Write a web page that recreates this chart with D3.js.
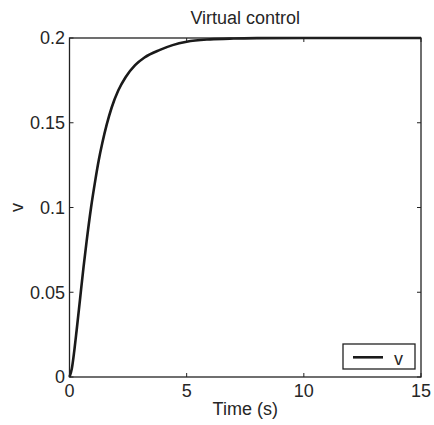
<!DOCTYPE html>
<html><head><meta charset="utf-8">
<script src="https://cdn.jsdelivr.net/npm/d3@7/dist/d3.min.js"></script>
<style>body{margin:0;background:#fff;}svg{display:block;font-family:"Liberation Sans",Arial,sans-serif;}</style>
</head><body>
<script>
const timeValues = [0, 0.1, 0.2, 0.3, 0.45, 0.6, 0.73, 0.92, 1.1, 1.25, 1.4, 1.59, 1.8, 2.08, 2.4, 2.8, 3.2, 3.86, 4.4, 5.0, 6, 7, 8, 10, 12, 15];
const vValues    = [0, 0.005, 0.015, 0.027, 0.046, 0.065, 0.08, 0.1, 0.116, 0.128, 0.138, 0.149, 0.159, 0.169, 0.177, 0.184, 0.1885, 0.193, 0.1958, 0.1978, 0.1992, 0.1997, 0.1999, 0.2, 0.2, 0.2];
const xTicks = [0, 5, 10, 15];
const yTicks = [0, 0.05, 0.1, 0.15, 0.2];
const title = "Virtual control";
const xLabel = "Time (s)";
const yLabel = "v";
const legendLabel = "v";

const W = 434, H = 425;
const L = 69.5, R = 421, T = 38, B = 377;
const svg = d3.select("body").append("svg").attr("width", W).attr("height", H);
const x = d3.scaleLinear().domain([0, 15]).range([L, R]);
const y = d3.scaleLinear().domain([0, 0.2]).range([B, T]);
const txt = "#262626", ln = "#222";

// ticks (inward) on all four sides
const tl = 4;
const g = svg.append("g");
xTicks.forEach(t => {
  g.append("line").attr("x1", x(t)).attr("x2", x(t)).attr("y1", B).attr("y2", B - tl).attr("stroke", ln);
  g.append("line").attr("x1", x(t)).attr("x2", x(t)).attr("y1", T).attr("y2", T + tl).attr("stroke", ln);
  svg.append("text").attr("x", x(t)).attr("y", 397).attr("text-anchor", "middle")
    .attr("font-size", 18).attr("fill", txt).text(t);
});
yTicks.forEach(t => {
  g.append("line").attr("x1", L).attr("x2", L + tl).attr("y1", y(t)).attr("y2", y(t)).attr("stroke", ln);
  g.append("line").attr("x1", R).attr("x2", R - tl).attr("y1", y(t)).attr("y2", y(t)).attr("stroke", ln);
  svg.append("text").attr("x", 65).attr("y", y(t)).attr("dy", "0.36em").attr("text-anchor", "end")
    .attr("font-size", 18).attr("fill", txt).text(t);
});

// curve
const line = d3.line().x((d, i) => x(timeValues[i])).y(d => y(d)).curve(d3.curveMonotoneX);
svg.append("path").datum(vValues).attr("d", line).attr("fill", "none")
  .attr("stroke", "#1a1a1a").attr("stroke-width", 2.6).attr("stroke-linejoin", "round");

// box
svg.append("rect").attr("x", L).attr("y", T).attr("width", R - L).attr("height", B - T)
  .attr("fill", "none").attr("stroke", ln).attr("stroke-width", 1.3);

// title & labels
svg.append("text").attr("x", (L + R) / 2).attr("y", 24).attr("text-anchor", "middle")
  .attr("font-size", 18).attr("fill", txt).text(title);
svg.append("text").attr("x", (L + R) / 2).attr("y", 415).attr("text-anchor", "middle")
  .attr("font-size", 18).attr("fill", txt).text(xLabel);
svg.append("text").attr("transform", `translate(23,${(T + B) / 2}) rotate(-90)`).attr("text-anchor", "middle")
  .attr("font-size", 18).attr("fill", txt).text(yLabel);

// legend
const lg = svg.append("g");
lg.append("rect").attr("x", 343).attr("y", 344).attr("width", 72).attr("height", 25)
  .attr("fill", "#fff").attr("stroke", ln).attr("stroke-width", 1.3);
lg.append("line").attr("x1", 353).attr("x2", 383).attr("y1", 357.3).attr("y2", 357.3)
  .attr("stroke", "#1a1a1a").attr("stroke-width", 2.6);
lg.append("text").attr("x", 394).attr("y", 364.5).attr("font-size", 18).attr("fill", txt).text(legendLabel);
</script>
</body></html>
